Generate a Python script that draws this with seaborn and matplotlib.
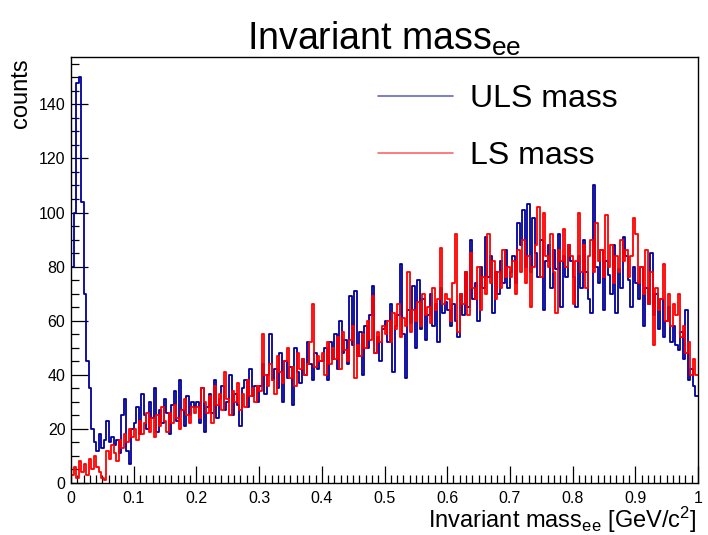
import numpy as np
import pandas as pd
import matplotlib
matplotlib.use("Agg")
import matplotlib.pyplot as plt
from matplotlib.ticker import MultipleLocator, FuncFormatter
import seaborn as sns

# ---- data (counts per bin, bin width 0.004 GeV/c^2, range 0..1) ----
bin_lo = 0.0
bin_hi = 1.0
n_bins = 250

uls_counts = [
    80, 100, 148, 150, 104, 70, 45, 35, 20, 15, 12, 18, 13, 16, 23, 15, 17, 14, 16, 11, 25, 31, 12, 7, 20,
    22, 28, 18, 33, 25, 20, 30, 24, 35, 19, 27, 22, 31, 26, 18, 29, 34, 23, 38, 27, 21, 32, 25, 30, 28,
    30, 22, 35, 19, 28, 33, 26, 38, 24, 31, 36, 27, 30, 40, 25, 33, 29, 21, 35, 38, 28, 42, 32, 36, 30,
    36, 44, 33, 40, 55, 38, 42, 35, 48, 30, 45, 39, 43, 29, 50, 41, 37, 46, 40, 52, 44, 38, 48, 42, 45,
    45, 50, 38, 52, 46, 55, 42, 60, 48, 53, 44, 69, 51, 71, 47, 56, 40, 58, 50, 62, 73, 48, 54, 45, 57,
    60, 52, 66, 41, 58, 62, 81, 55, 39, 64, 59, 73, 50, 75, 57, 68, 53, 62, 70, 58, 66, 52, 72, 63, 67,
    64, 58, 66, 60, 54, 70, 62, 78, 65, 90, 68, 74, 60, 80, 72, 91, 76, 84, 63, 78, 70, 82, 74, 86, 72,
    78, 84, 74, 96, 88, 101, 80, 103, 78, 98, 85, 76, 90, 64, 82, 88, 72, 86, 79, 92, 65, 84, 76, 88, 82,
    76, 65, 84, 72, 90, 78, 68, 63, 110, 80, 74, 86, 64, 82, 77, 70, 88, 63, 79, 72, 91, 84, 75, 65, 80,
    74, 68, 80, 58, 72, 66, 85, 62, 70, 57, 68, 54, 60, 65, 52, 58, 51, 49, 56, 46, 64, 38, 42, 36, 32,
]

ls_counts = [
    3, 6, 2, 8, 4, 7, 3, 9, 5, 10, 6, 4, 2, 1, 12, 9, 14, 11, 8, 16, 13, 18, 15, 20, 17,
    20, 16, 23, 18, 22, 26, 19, 24, 17, 25, 21, 28, 23, 19, 26, 22, 29, 24, 20, 27, 31, 25, 22, 28, 26,
    28, 24, 35, 30, 26, 32, 22, 36, 29, 33, 27, 41, 31, 25, 34, 30, 37, 27, 33, 28, 38, 32, 35, 30, 36,
    34, 55, 40, 36, 44, 38, 33, 47, 41, 37, 45, 50, 39, 43, 36, 48, 42, 46, 40, 44, 52, 66, 43, 47, 45,
    48, 40, 52, 44, 50, 46, 54, 42, 56, 49, 45, 53, 58, 39, 51, 47, 55, 50, 60, 53, 69, 48, 56, 52, 58,
    55, 60, 52, 63, 57, 66, 54, 61, 58, 78, 56, 64, 60, 67, 58, 70, 62, 65, 59, 72, 64, 68, 87, 66, 70,
    68, 60, 74, 92, 56, 70, 66, 78, 62, 85, 72, 68, 80, 64, 76, 70, 92, 74, 82, 68, 78, 72, 86, 76, 80,
    76, 82, 70, 86, 78, 90, 74, 84, 65, 80, 88, 102, 76, 100, 84, 80, 92, 78, 63, 86, 82, 94, 80, 88, 84,
    66, 82, 100, 78, 88, 72, 84, 90, 78, 96, 82, 86, 76, 99, 80, 88, 74, 84, 78, 90, 82, 86, 76, 84, 98,
    92, 74, 80, 70, 86, 66, 78, 51, 72, 64, 68, 81, 60, 70, 58, 66, 62, 70, 54, 58, 48, 52, 40, 46, 40,
]

series_labels = ["ULS mass", "LS mass"]
series_colors = ["#000099", "#ff0000"]
x_tick_values = [0, 0.1, 0.2, 0.3, 0.4, 0.5, 0.6, 0.7, 0.8, 0.9, 1.0]
y_tick_values = [0, 20, 40, 60, 80, 100, 120, 140]

bin_width = (bin_hi - bin_lo) / n_bins
centers = bin_lo + bin_width * (np.arange(n_bins) + 0.5)
df = pd.concat([
    pd.DataFrame({"mass": centers, "counts": uls_counts, "series": series_labels[0]}),
    pd.DataFrame({"mass": centers, "counts": ls_counts, "series": series_labels[1]}),
], ignore_index=True)

# ---- style ----
sns.set_style("white")
plt.rcParams["font.family"] = ["Liberation Sans", "DejaVu Sans"]
plt.rcParams["mathtext.fontset"] = "custom"
plt.rcParams["mathtext.rm"] = "Liberation Sans"
plt.rcParams["mathtext.it"] = "Liberation Sans:italic"
plt.rcParams["text.color"] = "black"
plt.rcParams["axes.labelcolor"] = "black"
plt.rcParams["xtick.color"] = "black"
plt.rcParams["ytick.color"] = "black"

fig = plt.figure(figsize=(7.08, 5.35), dpi=100)
ax = fig.add_axes([71 / 708, 1 - 483 / 535, (698 - 71) / 708, (483 - 57) / 535])

for lab, col in zip(series_labels, series_colors):
    sub = df[df["series"] == lab]
    sns.histplot(data=sub, x="mass", weights="counts", binwidth=bin_width,
                 binrange=(bin_lo, bin_hi), element="step",
                 fill=False, color=col, linewidth=1.3, ax=ax, label=lab)

ax.set_xlim(0, 1)
ax.set_ylim(0, 157.5)
ax.set_xlabel("")
ax.set_ylabel("")

ax.set_xticks(x_tick_values)
ax.xaxis.set_major_formatter(FuncFormatter(lambda v, p: "%g" % v))
ax.xaxis.set_minor_locator(MultipleLocator(0.01))
ax.set_yticks(y_tick_values)
ax.yaxis.set_minor_locator(MultipleLocator(5))

ax.tick_params(axis="both", which="both", direction="in", bottom=True, left=True,
               top=False, right=False, colors="black", labelsize=11.5)
ax.tick_params(axis="both", which="major", length=12, width=0.9)
ax.tick_params(axis="both", which="minor", length=6, width=0.9)
ax.tick_params(axis="x", which="major", pad=6)
ax.tick_params(axis="y", which="major", pad=4)
for s in ax.spines.values():
    s.set_color("black")
    s.set_linewidth(1.0)
    s.set_visible(True)

leg = ax.legend(loc="upper left", bbox_to_anchor=(0.49, 0.936), frameon=False,
                fontsize=23, handlelength=2.35, handletextpad=0.52, labelspacing=0.85,
                borderpad=0, borderaxespad=0)
for h in leg.get_lines():
    h.set_linewidth(1.2)
    h.set_alpha(0.6)

fig.text(384 / 708, 1 - 50 / 535, r"Invariant mass$_{\mathrm{ee}}$", ha="center",
         va="baseline", fontsize=27)
fig.text(697 / 708, 1 - 528 / 535, r"Invariant mass$_{\mathrm{ee}}$ [GeV/c$^{2}$]",
         ha="right", va="baseline", fontsize=17)
fig.text(21 / 708, 1 - 58 / 535, "counts", rotation=90, ha="center", va="top", fontsize=17)

fig.savefig("out.png", dpi=100, facecolor="white")
